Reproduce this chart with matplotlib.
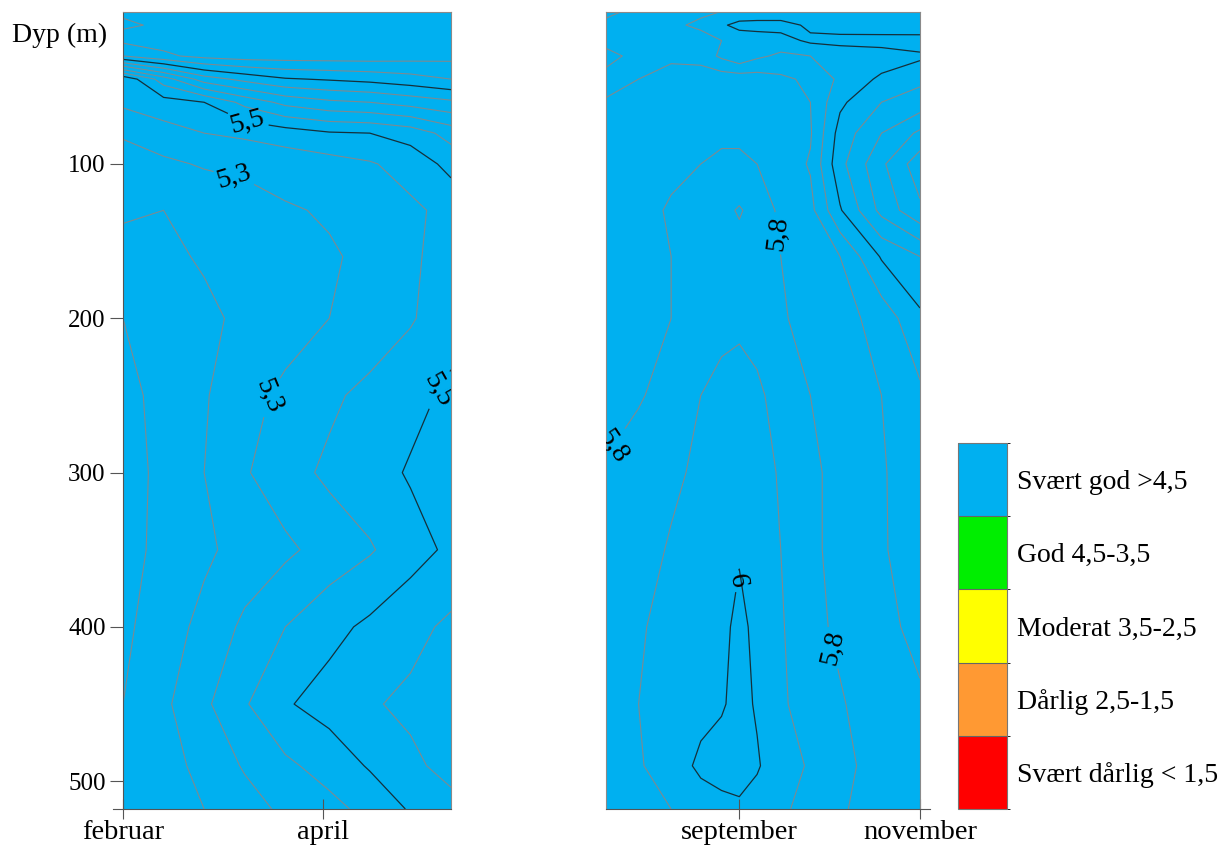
import matplotlib.pyplot as plt
import numpy as np
from matplotlib.colors import BoundaryNorm, ListedColormap

plt.rcParams["font.family"] = "Liberation Serif"

# ---- data: dissolved oxygen (ml/l) by depth and day of year ----
depths = [1, 10, 20, 30, 45, 60, 80, 100, 130, 160, 200, 250, 300, 350, 400, 450, 490, 518]

winter_days = [32, 44, 56, 68, 80, 93, 105, 117, 129]
winter_o2 = [
    [6.27, 6.28, 6.28, 6.28, 6.28, 6.28, 6.28, 6.28, 6.28],
    [6.33, 6.27, 6.28, 6.28, 6.28, 6.28, 6.28, 6.28, 6.28],
    [6.22, 6.24, 6.27, 6.28, 6.28, 6.28, 6.28, 6.27, 6.27],
    [6.10, 6.18, 6.23, 6.25, 6.25, 6.25, 6.25, 6.24, 6.23],
    [5.42, 5.65, 5.85, 5.93, 5.99, 6.01, 6.03, 6.06, 6.10],
    [5.42, 5.46, 5.50, 5.63, 5.73, 5.78, 5.80, 5.84, 5.88],
    [5.31, 5.36, 5.40, 5.42, 5.45, 5.49, 5.50, 5.54, 5.64],
    [5.26, 5.28, 5.31, 5.32, 5.34, 5.36, 5.39, 5.44, 5.53],
    [5.22, 5.20, 5.22, 5.26, 5.29, 5.31, 5.34, 5.38, 5.43],
    [5.15, 5.18, 5.21, 5.24, 5.27, 5.29, 5.32, 5.38, 5.45],
    [5.10, 5.14, 5.18, 5.22, 5.26, 5.30, 5.33, 5.39, 5.46],
    [5.07, 5.13, 5.19, 5.27, 5.32, 5.38, 5.43, 5.47, 5.52],
    [5.05, 5.13, 5.20, 5.29, 5.36, 5.42, 5.46, 5.51, 5.54],
    [5.06, 5.13, 5.18, 5.24, 5.28, 5.34, 5.39, 5.46, 5.52],
    [5.08, 5.15, 5.23, 5.32, 5.40, 5.47, 5.52, 5.57, 5.62],
    [5.10, 5.18, 5.28, 5.39, 5.49, 5.54, 5.59, 5.62, 5.64],
    [5.11, 5.16, 5.23, 5.31, 5.38, 5.44, 5.51, 5.58, 5.63],
    [5.12, 5.16, 5.20, 5.26, 5.32, 5.37, 5.43, 5.51, 5.57],
]

autumn_days = [199, 210, 221, 231, 238, 244, 250, 258, 268, 278, 292, 305]
autumn_o2 = [
    [5.72, 5.68, 5.66, 5.62, 5.60, 5.60, 5.60, 5.58, 5.56, 5.55, 5.56, 5.56],
    [5.68, 5.64, 5.62, 5.58, 5.52, 5.46, 5.45, 5.46, 5.52, 5.56, 5.58, 5.60],
    [5.62, 5.62, 5.64, 5.64, 5.60, 5.58, 5.57, 5.54, 5.48, 5.46, 5.45, 5.44],
    [5.58, 5.62, 5.68, 5.66, 5.58, 5.52, 5.58, 5.62, 5.60, 5.58, 5.56, 5.52],
    [5.62, 5.70, 5.74, 5.76, 5.76, 5.76, 5.75, 5.72, 5.68, 5.58, 5.48, 5.42],
    [5.72, 5.74, 5.76, 5.77, 5.78, 5.78, 5.77, 5.75, 5.70, 5.52, 5.40, 5.36],
    [5.75, 5.76, 5.77, 5.78, 5.79, 5.79, 5.78, 5.76, 5.71, 5.46, 5.30, 5.18],
    [5.75, 5.76, 5.78, 5.80, 5.81, 5.81, 5.80, 5.76, 5.69, 5.43, 5.22, 5.04],
    [5.76, 5.77, 5.81, 5.84, 5.87, 5.91, 5.86, 5.78, 5.73, 5.51, 5.27, 5.12],
    [5.76, 5.77, 5.80, 5.83, 5.85, 5.86, 5.84, 5.80, 5.75, 5.70, 5.49, 5.40],
    [5.77, 5.78, 5.80, 5.84, 5.87, 5.88, 5.86, 5.81, 5.77, 5.74, 5.66, 5.52],
    [5.76, 5.79, 5.84, 5.90, 5.93, 5.94, 5.92, 5.86, 5.80, 5.76, 5.70, 5.62],
    [5.81, 5.85, 5.88, 5.92, 5.95, 5.96, 5.94, 5.89, 5.82, 5.77, 5.71, 5.64],
    [5.83, 5.86, 5.91, 5.95, 5.98, 5.99, 5.96, 5.90, 5.82, 5.77, 5.71, 5.65],
    [5.86, 5.89, 5.93, 5.96, 5.97, 6.03, 5.97, 5.91, 5.83, 5.78, 5.72, 5.68],
    [5.88, 5.90, 5.94, 5.97, 5.99, 6.03, 5.99, 5.92, 5.84, 5.81, 5.74, 5.71],
    [5.87, 5.89, 5.95, 6.02, 6.04, 6.05, 6.01, 5.94, 5.89, 5.82, 5.77, 5.74],
    [5.85, 5.87, 5.90, 5.95, 5.97, 5.98, 5.96, 5.92, 5.86, 5.81, 5.76, 5.74],
]

# condition classes
class_bounds = [0, 1.5, 2.5, 3.5, 4.5, 10]
class_colors = ["#FF0000", "#FF9933", "#FFFF00", "#00EE00", "#00B0F0"]
class_labels = [
    "Svært dårlig < 1,5",
    "Dårlig 2,5-1,5",
    "Moderat 3,5-2,5",
    "God 4,5-3,5",
    "Svært god >4,5",
]

grey_levels = [5.1, 5.2, 5.3, 5.4, 5.6, 5.7, 5.8, 5.9, 6.1, 6.2, 6.3]
black_levels = [5.5, 6.0]

depth_ticks = [100, 200, 300, 400, 500]
winter_ticks = [32, 91]
winter_ticklabels = ["februar", "april"]
autumn_ticks = [244, 305]
autumn_ticklabels = ["september", "november"]

cmap = ListedColormap(class_colors)
norm = BoundaryNorm(class_bounds, cmap.N)


def fmt(v):
    return f"{v:g}".replace(".", ",")


# ---- figure ----
W, H = 1230, 850
fig = plt.figure(figsize=(W / 100, H / 100), dpi=100)
ax1 = fig.add_axes([123 / W, 41 / H, 328 / W, 797 / H])
ax2 = fig.add_axes([606 / W, 41 / H, 314 / W, 797 / H])
cax = fig.add_axes([958 / W, 41 / H, 49 / W, 366 / H])


def draw_section(ax, days, o2, labels):
    X, Y = np.meshgrid(days, depths)
    Z = np.array(o2)
    cf = ax.contourf(X, Y, Z, levels=class_bounds, cmap=cmap, norm=norm)
    # one contour set per isoline so each can carry its own labels
    for lev in sorted(grey_levels + black_levels):
        black = lev in black_levels
        cs = ax.contour(
            X, Y, Z, levels=[lev],
            colors="#15303a" if black else "#7d8a90",
            linewidths=0.9 if black else 0.8,
        )
        if lev in labels:
            cs.clabel(
                manual=labels[lev],
                fmt=fmt,
                fontsize=20,
                colors="black",
                inline=True,
                inline_spacing=4,
            )
    ax.set_xlim(days[0], days[-1])
    ax.set_ylim(518, 1.5)
    for side in ax.spines:
        ax.spines[side].set_color("#8a8a8a")
        ax.spines[side].set_linewidth(0.8)
    ax.spines["bottom"].set_color("#555555")
    return cf


cf = draw_section(
    ax1,
    winter_days,
    winter_o2,
    {5.5: [(69, 70), (123, 243)], 5.3: [(66, 99), (74, 250)]},
)
draw_section(
    ax2,
    autumn_days,
    autumn_o2,
    {5.8: [(252.7, 146), (201.4, 283), (272.3, 415)], 6.0: [(241.9, 370)]},
)

# axes styling
ax1.spines["left"].set_color("#555555")
ax1.set_yticks(depth_ticks)
ax1.tick_params(axis="y", direction="out", length=9.5, width=0.8,
                color="#555555", labelsize=18, pad=3)
ax1.set_xticks(winter_ticks)
ax1.set_xticklabels(winter_ticklabels)
ax1.plot([-10 / 328, 0], [0, 0], transform=ax1.transAxes, color="#555555",
         lw=0.8, clip_on=False)

ax2.set_yticks([])
ax2.set_xticks(autumn_ticks)
ax2.set_xticklabels(autumn_ticklabels)
ax2.plot([1, 1 + 10 / 314], [0, 0], transform=ax2.transAxes, color="#555555",
         lw=0.8, clip_on=False)

for ax in (ax1, ax2):
    ax.tick_params(axis="x", direction="inout", length=14, width=0.8,
                   color="#555555", labelsize=20.5, pad=1)

fig.text(12 / W, 1 - 35 / H, "Dyp (m)", fontsize=20, ha="left", va="center")

# class legend
mids = [0.75, 2.0, 3.0, 4.0, 7.25]
cb = fig.colorbar(cf, cax=cax, ticks=mids, drawedges=True)
cb.ax.set_yticklabels(class_labels)
cb.ax.tick_params(length=0, labelsize=20, pad=7)
cb.outline.set_edgecolor("#777777")
cb.outline.set_linewidth(0.8)
cb.dividers.set_color("#666666")
cb.dividers.set_linewidth(0.8)

fig.savefig("out.png", dpi=100)
